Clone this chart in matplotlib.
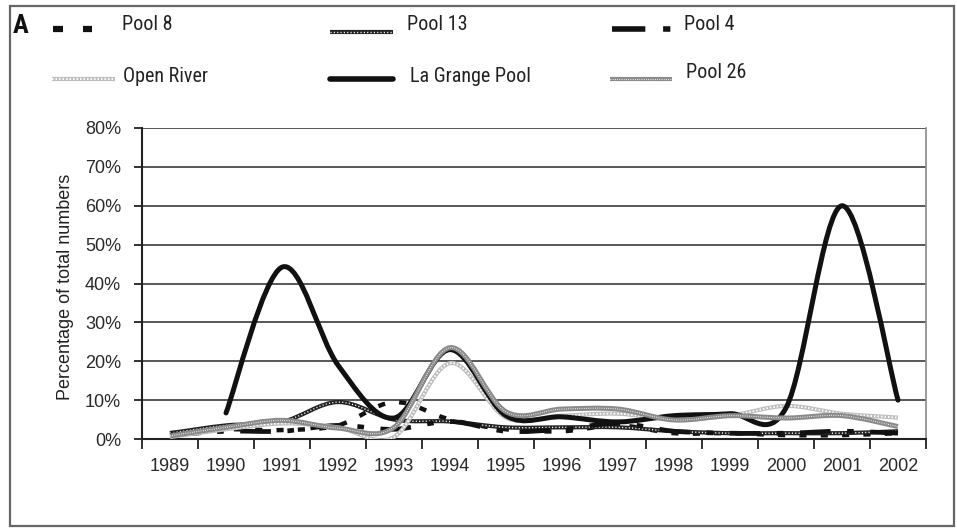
import numpy as np
import matplotlib
matplotlib.use("Agg")
import matplotlib.pyplot as plt
from matplotlib.path import Path
from matplotlib.patches import PathPatch, Rectangle
from matplotlib.ticker import PercentFormatter

# ---------------- data ----------------
years = [1989, 1990, 1991, 1992, 1993, 1994, 1995, 1996, 1997, 1998, 1999, 2000, 2001, 2002]
pool8 = [1.5, 2.5, 2.3, 3.5, 9.5, 5.0, 2.5, 2.0, 3.5, 1.5, 1.5, 1.0, 1.0, 1.5]
pool13 = [1.5, 3.5, 4.4, 9.5, 5.0, 4.5, 3.0, 3.0, 3.0, 2.0, 1.5, 1.5, 1.5, 2.0]
pool4 = [1.0, 2.0, 2.0, 3.5, 2.5, 4.5, 2.0, 2.5, 4.0, 2.0, 1.5, 1.5, 2.0, 1.5]
open_river = [0.5, 2.5, 4.0, 3.0, 0.5, 19.5, 5.5, 6.0, 6.5, 5.0, 6.0, 8.5, 6.5, 5.5]
la_grange = [np.nan, 6.7, 44.2, 19.0, 5.4, 23.0, 6.0, 5.7, 4.4, 6.0, 6.5, 8.0, 60.0, 10.0]
pool26 = [0.8, 3.0, 4.8, 2.8, 3.0, 23.5, 7.0, 7.7, 7.7, 4.9, 6.0, 5.4, 6.0, 3.2]
yticks = [0, 10, 20, 30, 40, 50, 60, 70, 80]

W, H = 957, 529
fig = plt.figure(figsize=(W / 100, H / 100), dpi=100)
fig.patch.set_facecolor("white")

NARROW = ["Roboto Condensed", "Liberation Sans"]
REG = ["Liberation Sans", "DejaVu Sans"]

ax = fig.add_axes([142 / W, 1 - 439 / H, (926 - 142) / W, (439 - 128) / H])


def smooth_path(xs, ys):
    pts = [(x, y) for x, y in zip(xs, ys) if not np.isnan(y)]
    P = np.array(pts, dtype=float)
    n = len(P)
    verts = [tuple(P[0])]
    codes = [Path.MOVETO]
    for i in range(n - 1):
        p0 = P[i - 1] if i > 0 else P[i]
        p1 = P[i]
        p2 = P[i + 1]
        p3 = P[i + 2] if i + 2 < n else P[i + 1]
        c1 = p1 + (p2 - p0) / 6.0
        c2 = p2 - (p3 - p1) / 6.0
        verts += [tuple(c1), tuple(c2), tuple(p2)]
        codes += [Path.CURVE4] * 3
    return Path(verts, codes)


styles = {
    "Pool 8": [("#111111", 3.2, (0, (1.6, 3.2)), "butt")],
    "Pool 13": [("#222222", 3.0, "-", "butt"), ("white", 1.0, (0, (0.8, 1.6)), "butt")],
    "Pool 4": [("#111111", 3.4, (0, (6.5, 3.5, 1.4, 3.5)), "butt")],
    "Open River": [("#bdbdbd", 3.0, "-", "butt"), ("white", 1.4, (0, (0.8, 1.0)), "butt")],
    "La Grange Pool": [("#111111", 3.6, "-", "round")],
    "Pool 26": [("#8a8a8a", 3.6, "-", "butt"), ("white", 0.8, (0, (0.7, 1.3)), "butt")],
}
series = [("Pool 8", pool8), ("Pool 13", pool13), ("Pool 4", pool4),
          ("Open River", open_river), ("La Grange Pool", la_grange), ("Pool 26", pool26)]

for k, (name, vals) in enumerate(series):
    path = smooth_path(years, vals)
    for j, (c, lw, ls, cap) in enumerate(styles[name]):
        pp = PathPatch(path, fill=False, edgecolor=c, lw=lw, linestyle=ls,
                       capstyle=cap, joinstyle="round", zorder=3 + k + 0.1 * j)
        ax.add_patch(pp)

ax.set_xlim(years[0] - 0.5, years[-1] + 0.5)
ax.set_ylim(0, 80)
ax.set_yticks(yticks)
ax.yaxis.set_major_formatter(PercentFormatter(decimals=0))
ax.grid(axis="y", color="#4a4a4a", lw=1.3, zorder=1)
ax.set_axisbelow(True)

bounds = np.arange(years[0] - 0.5, years[-1] + 0.51, 1.0)
ax.set_xticks(bounds)
ax.set_xticklabels([""] * len(bounds))
ax.set_xticks(years, minor=True)
ax.set_xticklabels([str(y) for y in years], minor=True)
ax.tick_params(axis="x", which="major", direction="out", length=7, width=1.3, color="#222222")
ax.tick_params(axis="x", which="minor", length=0, pad=14, labelsize=13, labelcolor="#2a2a2a")
ax.tick_params(axis="y", direction="out", length=6, width=1.3, pad=9, labelsize=13,
               color="#222222", labelcolor="#2a2a2a")
for lab in ax.get_xticklabels(minor=True) + ax.get_yticklabels():
    lab.set_family(REG)

ax.spines["top"].set_visible(False)
ax.spines["left"].set_color("#222222")
ax.spines["left"].set_linewidth(1.5)
ax.spines["bottom"].set_color("#222222")
ax.spines["bottom"].set_linewidth(1.5)
ax.spines["right"].set_color("#888888")
ax.spines["right"].set_linewidth(1.2)

fig.text(66 / W, 1 - 287 / H, "Percentage of total numbers", rotation=90,
         ha="center", va="center", fontsize=13, family=REG, color="#222222")

# ---------------- overlay: border, panel letter, legend ----------------
ov = fig.add_axes([0, 0, 1, 1], zorder=10)
ov.set_xlim(0, W)
ov.set_ylim(H, 0)
ov.axis("off")
ov.patch.set_alpha(0)
ov.add_patch(Rectangle((10, 6), 944, 520, fill=False, edgecolor="#666666", lw=1.6))
ov.text(13, 26, "A", fontsize=19, fontweight="bold", family=NARROW, va="center", ha="left",
        color="#111111")

legend_items = [
    ("Pool 8", (53, 92, 29), (122, 25)),
    ("Pool 13", (330, 393, 32), (407, 25)),
    ("Pool 4", (612, 672, 29), (684, 25)),
    ("Open River", (52, 115, 79), (123, 77)),
    ("La Grange Pool", (330, 393, 79), (410, 76)),
    ("Pool 26", (610, 672, 79), (686, 72)),
]
leg_styles = {
    "Pool 8": [("#111111", 4.5, (0, (1.6, 3.2)), "butt")],
    "Pool 13": [("#222222", 3.0, "-", "butt"), ("white", 1.0, (0, (0.8, 1.6)), "butt")],
    "Pool 4": [("#111111", 4.0, (0, (6.0, 3.2, 1.3, 3.2)), "butt")],
    "Open River": [("#bdbdbd", 3.0, "-", "butt"), ("white", 1.4, (0, (0.8, 1.0)), "butt")],
    "La Grange Pool": [("#111111", 4.0, "-", "round")],
    "Pool 26": [("#8a8a8a", 3.0, "-", "butt"), ("white", 0.8, (0, (0.7, 1.3)), "butt")],
}
for name, (x1, x2, yy), (tx, ty) in legend_items:
    for c, lw, ls, cap in leg_styles[name]:
        ov.plot([x1, x2], [yy, yy], color=c, lw=lw, linestyle=ls, solid_capstyle=cap,
                dash_capstyle=cap)
    ov.text(tx, ty, name, fontsize=14.5, family=NARROW, va="center", ha="left", color="#222222")

fig.savefig("out.png", dpi=100, facecolor="white")
